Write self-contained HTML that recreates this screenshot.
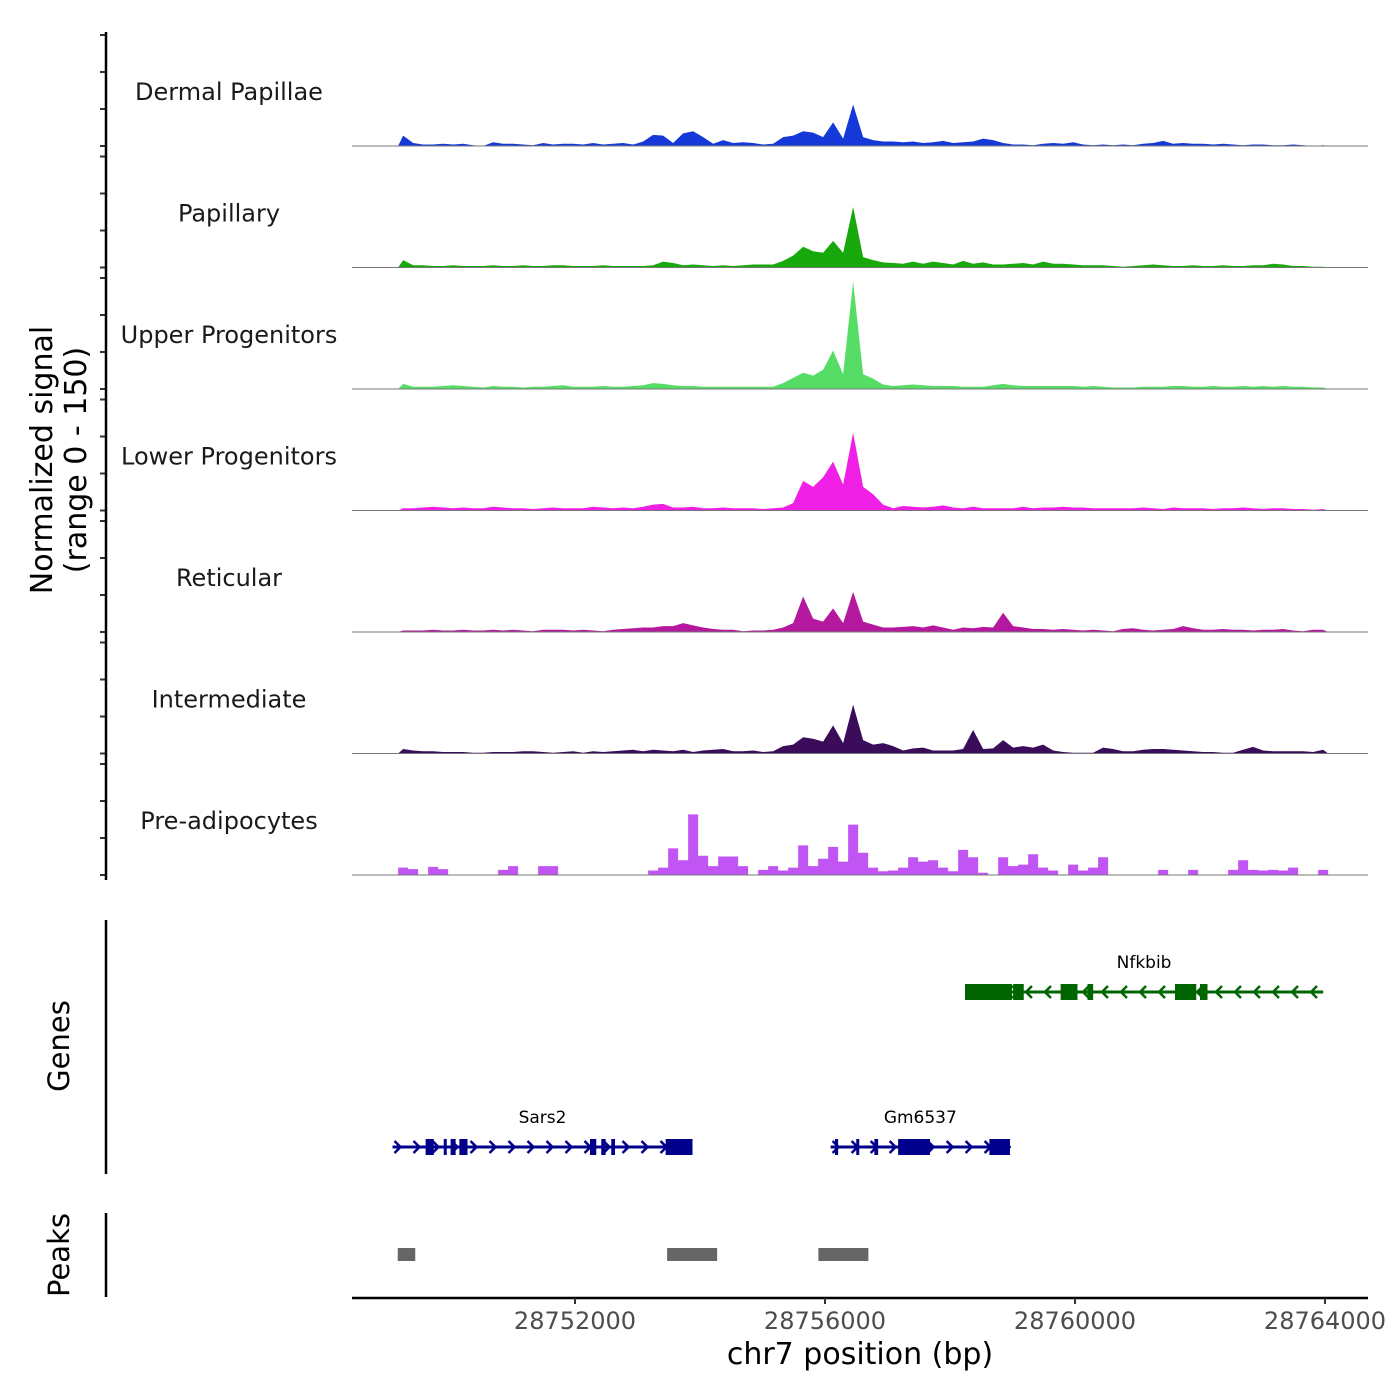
<!DOCTYPE html>
<html><head><meta charset="utf-8"><style>
html,body{margin:0;padding:0;background:#fff;}
svg{display:block;font-family:"DejaVu Sans","Liberation Sans",sans-serif;}
</style></head><body>
<svg id="chart" width="1400" height="1400" viewBox="0 0 1400 1400" xmlns="http://www.w3.org/2000/svg">
<g id="tracks"></g>
<g id="genes"></g>
<g id="peaks"></g>
<g id="axes"></g>
</svg>
<script>
const trackNames = ["Dermal Papillae","Papillary","Upper Progenitors","Lower Progenitors","Reticular","Intermediate","Pre-adipocytes"];
const trackColors = ["#1538d8","#17a80b","#55dd66","#f01fe6","#b3189e","#3b0c5a","#c155f3"];
const binStart = 28749170;
const binSize = 160;
const dermalPapillae = [14,4,2,2,3,2,3,1,0,5, 3,3,2,1,4,2,3,3,2,4, 2,3,4,2,6,15,14,4,17,20, 12,3,8,4,5,4,2,3,12,14, 20,18,12,32,10,56,12,8,6,6, 5,6,4,5,7,4,5,6,10,8, 4,2,2,1,3,4,3,5,2,1, 2,1,2,1,3,4,7,3,4,3, 3,2,3,2,1,2,2,1,1,2, 1,0,1];
const papillary = [10,3,3,2,2,3,2,2,2,3, 2,2,3,2,2,3,3,2,2,2, 3,2,2,2,2,3,8,6,3,4, 3,2,3,2,3,4,4,4,9,16, 28,22,20,36,20,82,14,10,7,6, 5,8,5,8,6,4,9,5,7,4, 4,5,6,4,8,5,5,4,3,3, 3,2,1,2,3,4,3,2,2,3, 2,2,3,2,2,3,3,5,4,2, 2,1,1];
const upperProgenitors = [7,3,3,3,4,5,4,3,2,4, 3,3,2,3,3,4,5,3,3,3, 4,3,3,4,5,8,7,5,4,4, 3,3,3,3,3,3,3,3,8,15, 22,18,26,52,20,145,20,14,6,4, 5,6,5,4,4,4,3,3,3,5, 7,5,4,4,4,4,4,4,3,4, 3,2,2,2,3,3,3,4,4,3, 3,4,3,3,4,3,4,3,4,3, 3,2,2];
const lowerProgenitors = [3,3,4,5,4,3,4,3,3,5, 4,3,3,2,3,4,3,3,3,5, 4,3,4,3,5,8,9,4,4,5, 3,3,4,3,3,3,2,3,4,10, 40,32,45,66,35,105,32,22,8,3, 6,5,4,5,7,4,3,5,3,3, 3,3,5,3,4,4,5,4,4,3, 3,3,3,3,4,3,2,4,3,3, 3,2,3,3,4,3,2,3,3,2, 2,1,2];
const reticular = [2,2,2,3,2,2,3,2,2,3, 2,3,2,1,3,3,3,2,3,2, 1,3,4,5,6,6,8,8,12,9, 6,4,3,3,1,2,2,3,6,12, 48,18,14,32,12,54,14,10,6,6, 7,8,6,9,6,3,6,5,7,6, 26,8,6,4,4,3,4,3,2,3, 2,1,4,5,3,2,3,4,8,5, 3,3,4,3,3,2,3,3,4,2, 1,3,3];
const intermediate = [6,4,3,3,2,2,2,1,1,2, 2,2,3,3,2,1,2,3,1,3, 2,3,4,5,3,5,4,3,5,2, 4,5,6,3,3,4,2,3,10,12, 22,20,16,38,14,66,18,12,14,10, 4,7,8,4,4,4,6,32,6,7, 18,8,10,8,12,4,2,1,1,1, 8,6,3,3,5,6,6,5,4,3, 2,2,1,1,5,9,4,3,3,3, 3,2,5];
const preAdipocytes = [10,8,0,11,8,0,0,0,0,0, 7,12,0,0,12,12,0,0,0,0, 0,0,0,0,0,6,10,36,20,82, 26,12,25,25,12,0,7,12,6,10, 40,12,22,38,18,68,30,10,5,6, 10,24,18,20,10,5,34,24,3,0, 24,12,14,28,10,6,0,14,6,10, 24,0,0,0,0,0,7,0,0,7, 0,0,0,7,20,7,6,7,6,10, 0,0,7];
const trackValues = [dermalPapillae,papillary,upperProgenitors,lowerProgenitors,reticular,intermediate,preAdipocytes];
const xTicks = [28752000,28756000,28760000,28764000];
const yTicks = [0,50,100,150];
const geneNames = ["Nfkbib","Sars2","Gm6537"];
const geneStarts = [28758240,28749080,28756090];
const geneEnds = [28763970,28753880,28758960];
const geneStrands = [-1,1,1];
const geneRows = [0,1,1];
const exonStarts = [[28758240,28759010,28759770,28760200,28761600,28762000],[28749610,28749900,28750010,28750150,28752240,28752420,28752580,28753450],[28756160,28756500,28756790,28757170,28758630]];
const exonEnds = [[28758990,28759180,28760040,28760290,28761940,28762120],[28749740,28749930,28750090,28750280,28752340,28752490,28752640,28753880],[28756210,28756530,28756850,28757680,28758960]];
const peakStarts = [28749164,28753474,28755894];
const peakEnds = [28749444,28754274,28756694];

const NS="http://www.w3.org/2000/svg";
const X0=352,X1=1368,bp0=28748432,pxPerBp=0.0625;
function xs(bp){return X0+(bp-bp0)*pxPerBp;}
const trackTop=24.5,trackH=121.5,yScale=111/150;
function mk(tag,attrs,parent){const e=document.createElementNS(NS,tag);for(const k in attrs)e.setAttribute(k,attrs[k]);parent.appendChild(e);return e;}
const gT=document.getElementById('tracks'),gA=document.getElementById('axes'),gG=document.getElementById('genes'),gP=document.getElementById('peaks');

trackNames.forEach((name,t)=>{
  const base=trackTop+trackH*(t+1);
  const vals=trackValues[t];
  let d="M"+xs(binStart)+","+base;
  if(t===6){
    vals.forEach((v,i)=>{const a=xs(binStart+i*binSize),b=xs(binStart+(i+1)*binSize);const y=base-v*yScale;d+=" L"+a+","+y+" L"+b+","+y;});
    d+=" L"+xs(binStart+vals.length*binSize)+","+base+" Z";
  } else {
    vals.forEach((v,i)=>{d+=" L"+xs(binStart+(i+0.5)*binSize)+","+(base-v*yScale);});
    d+=" L"+xs(binStart+vals.length*binSize)+","+base+" Z";
  }
  const p=mk('path',{d:d,fill:trackColors[t]},gT);
  
  
  const bl=mk('line',{x1:X0,x2:X1,y1:base,y2:base,stroke:'#777','stroke-width':1},gT);
  
  
  const lb=mk('text',{x:229,y:base-46,'text-anchor':'middle','font-size':24,fill:'#1a1a1a'},gT);
  lb.textContent=name;
  
  
  yTicks.forEach(v=>{
    const tk=mk('line',{x1:100,x2:106,y1:base-v*yScale,y2:base-v*yScale,stroke:'#333','stroke-width':2},gA);
    
    
  });
});
let e;
e=mk('line',{x1:106,x2:106,y1:32,y2:880,stroke:'#000','stroke-width':2.5},gA);


e=mk('text',{transform:'translate(52,460) rotate(-90)','text-anchor':'middle','font-size':30,fill:'#000'},gA);
e.textContent='Normalized signal';


e=mk('text',{transform:'translate(86,460) rotate(-90)','text-anchor':'middle','font-size':30,fill:'#000'},gA);
e.textContent='(range 0 - 150)';


e=mk('line',{x1:106,x2:106,y1:920,y2:1174,stroke:'#000','stroke-width':2.5},gA);


e=mk('text',{transform:'translate(69,1046) rotate(-90)','text-anchor':'middle','font-size':29,fill:'#000'},gA);
e.textContent='Genes';


e=mk('line',{x1:106,x2:106,y1:1213,y2:1297,stroke:'#000','stroke-width':2.5},gA);


e=mk('text',{transform:'translate(69,1255) rotate(-90)','text-anchor':'middle','font-size':29,fill:'#000'},gA);
e.textContent='Peaks';


e=mk('line',{x1:352,x2:1368,y1:1298,y2:1298,stroke:'#000','stroke-width':2.5},gA);


xTicks.forEach(v=>{
  const tk=mk('line',{x1:xs(v),x2:xs(v),y1:1298,y2:1304,stroke:'#333','stroke-width':2},gA);
  
  
  const tl=mk('text',{x:xs(v),y:1329,'text-anchor':'middle','font-size':24,fill:'#4d4d4d'},gA);
  tl.textContent=String(v);
  
  
});
e=mk('text',{x:860,y:1364,'text-anchor':'middle','font-size':30,fill:'#000'},gA);
e.textContent='chr7 position (bp)';



const rowY=[992,1147];
geneNames.forEach((g,i)=>{
  const y=rowY[geneRows[i]];
  const col=geneStrands[i]<0?'#006400':'#00008b';
  const a=xs(geneStarts[i]),b=xs(geneEnds[i]);
  const grp=mk('g',{},gG);
  
  
  mk('line',{x1:a,x2:b,y1:y,y2:y,stroke:col,'stroke-width':3},grp);
  for(let x=a+6;x<b;x+=19){
    const s=geneStrands[i];
    mk('polyline',{points:(x-4*s)+","+(y-6)+" "+(x+2*s)+","+y+" "+(x-4*s)+","+(y+6),fill:'none',stroke:col,'stroke-width':2.5},grp);
  }
  exonStarts[i].forEach((s,k)=>{
    const xa=xs(s),xb=xs(exonEnds[i][k]);
    mk('rect',{x:xa,y:y-8,width:Math.max(3,xb-xa),height:16,fill:col},grp);
  });
  const lb=mk('text',{x:(a+b)/2,y:y-24,'text-anchor':'middle','font-size':17,fill:'#000'},grp);
  lb.textContent=g;
  
  
});
peakStarts.forEach((s,i)=>{
  const r=mk('rect',{x:xs(s),y:1248,width:xs(peakEnds[i])-xs(s),height:13,fill:'#666'},gP);
  
  
});
</script>
</body></html>
